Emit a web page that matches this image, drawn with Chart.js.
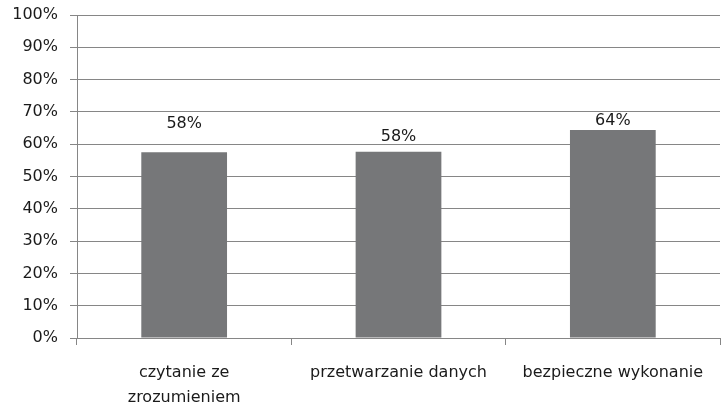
<!DOCTYPE html>
<html>
<head>
<meta charset="utf-8">
<script src="https://cdn.jsdelivr.net/npm/chart.js@4"></script>
<style>
  html, body { margin: 0; padding: 0; background: #fff; }
  #wrap { width: 726px; height: 405px; }
</style>
</head>
<body>
<div id="wrap"><canvas id="skillsChart"></canvas></div>
<script>
// Chart data
const categories = [['czytanie ze', 'zrozumieniem'], 'przetwarzanie danych', 'bezpieczne wykonanie'];
const scores = [57.5, 57.7, 64.4];
const yTicks = [0, 10, 20, 30, 40, 50, 60, 70, 80, 90, 100];

const FONT = { family: 'DejaVu Sans', size: 16 };

// Value labels above bars (Excel placed them a bit unevenly)
const barLabels = {
    id: 'barLabels',
    afterDatasetsDraw(chart, args, opts) {
        const ctx = chart.ctx;
        const meta = chart.getDatasetMeta(0);
        ctx.save();
        ctx.font = `${FONT.size}px ${FONT.family}`;
        ctx.fillStyle = '#1a1a1a';
        ctx.textAlign = 'center';
        ctx.textBaseline = 'middle';
        meta.data.forEach((bar, i) => {
            const val = chart.data.datasets[0].data[i];
            ctx.fillText(Math.round(val) + '%', bar.x, bar.y - opts.offsets[i]);
        });
        ctx.restore();
    }
};

new Chart(document.getElementById('skillsChart'), {
    type: 'bar',
    data: {
        labels: categories,
        datasets: [{
            data: scores,
            backgroundColor: '#767779',
            barPercentage: 0.4,
            categoryPercentage: 1.0
        }]
    },
    options: {
        responsive: true,
        maintainAspectRatio: false,
        animation: false,
        layout: { padding: { top: 15, right: 6, left: 0, bottom: 0 } },
        plugins: {
            legend: { display: false },
            tooltip: { enabled: false },
            barLabels: { offsets: [28, 15, 9] }
        },
        scales: {
            y: {
                min: 0,
                max: 100,
                afterBuildTicks: (scale) => { scale.ticks = yTicks.map(v => ({ value: v })); },
                afterFit: (scale) => {
                    scale.width = 77;
                    scale.paddingTop = 0;
                    scale.paddingBottom = 0;
                },
                border: { color: '#868686', width: 1 },
                grid: { color: '#868686', lineWidth: 1, tickLength: 7 },
                ticks: {
                    color: '#1a1a1a',
                    font: FONT,
                    padding: 12,
                    callback: (v) => v + '%'
                }
            },
            x: {
                afterFit: (scale) => { scale.height = 67; },
                border: { color: '#868686', width: 1 },
                grid: { offset: true, drawOnChartArea: false, color: '#868686', tickLength: 7 },
                ticks: {
                    color: '#1a1a1a',
                    font: { family: FONT.family, size: FONT.size, lineHeight: 1.5625 },
                    padding: 15,
                    maxRotation: 0
                }
            }
        }
    },
    plugins: [barLabels]
});
</script>
</body>
</html>
